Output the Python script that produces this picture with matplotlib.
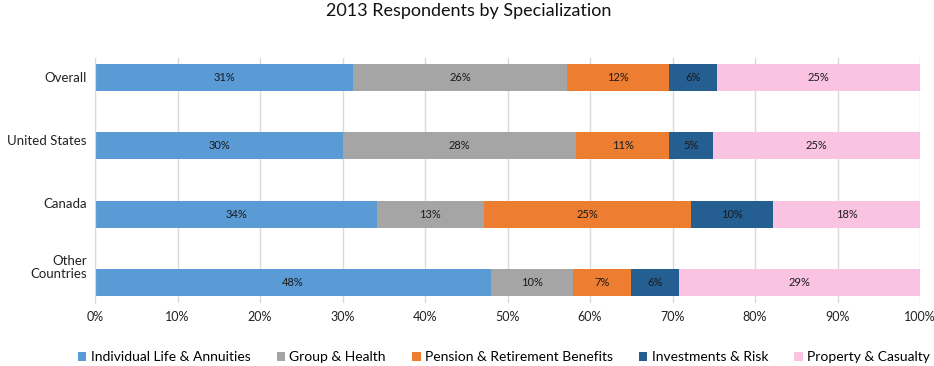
import numpy as np
import matplotlib
matplotlib.use("Agg")
import matplotlib.pyplot as plt
from matplotlib.ticker import PercentFormatter

plt.rcParams["font.family"] = ["Lato", "DejaVu Sans"]

# data (percent of respondents)
regions = ["Overall", "United States", "Canada", "Other\nCountries"]
specializations = ["Individual Life & Annuities", "Group & Health",
                   "Pension & Retirement Benefits", "Investments & Risk",
                   "Property & Casualty"]
life_annuities = [31.3, 30.1, 34.2, 48.0]
group_health = [25.9, 28.2, 12.9, 9.9]
pension = [12.4, 11.3, 25.1, 7.1]
investments = [5.8, 5.3, 10.0, 5.8]
property_casualty = [24.6, 25.1, 17.8, 29.2]

colors = ["#5B9BD5", "#A5A5A5", "#ED7D31", "#255E91", "#F9C3E1"]

series = [life_annuities, group_health, pension, investments, property_casualty]

fig = plt.figure(figsize=(9.34, 3.66), dpi=100)
ax = fig.add_axes([95 / 934, 1 - 303 / 366, 825 / 934, 245 / 366])

y = np.arange(len(regions))
left = np.zeros(len(regions))
for vals, col, name in zip(series, colors, specializations):
    vals = np.array(vals)
    ax.barh(y, vals, left=left, height=0.395, color=col, label=name, zorder=2)
    for yi, (l, v) in enumerate(zip(left, vals)):
        ax.text(l + v / 2, yi, f"{v:.0f}%", ha="center", va="center",
                fontsize=8, color="#1a1a1a", zorder=3)
    left += vals

ax.set_xlim(0, 100)
ax.set_ylim(3.30, -0.285)
ax.set_xticks(np.arange(0, 101, 10))
ax.xaxis.set_major_formatter(PercentFormatter(decimals=0))
# Excel drew the category labels a little above the bars lower down
ax.set_yticks(y * 0.92)
ax.set_yticklabels(regions, fontsize=9.5, color="#222222", linespacing=1.1)
ax.tick_params(axis="x", labelsize=9, colors="#222222", length=0, pad=6)
ax.tick_params(axis="y", length=0, pad=6)
ax.grid(axis="x", color="#D9D9D9", lw=1, zorder=0)
for s in ["top", "right", "bottom"]:
    ax.spines[s].set_visible(False)
ax.spines["left"].set_color("#D9D9D9")

fig.suptitle("2013 Respondents by Specialization", x=469 / 934, y=1 - 3 / 366,
             va="top", fontsize=13, color="#111111")

handles, labels = ax.get_legend_handles_labels()
fig.legend(handles, labels, loc="center", bbox_to_anchor=(504 / 934, 1 - 357 / 366),
           ncol=5, frameon=False, fontsize=10, handlelength=0.6, handleheight=0.6,
           handletextpad=0.3, columnspacing=1.9)

fig.savefig("out.png", dpi=100)
